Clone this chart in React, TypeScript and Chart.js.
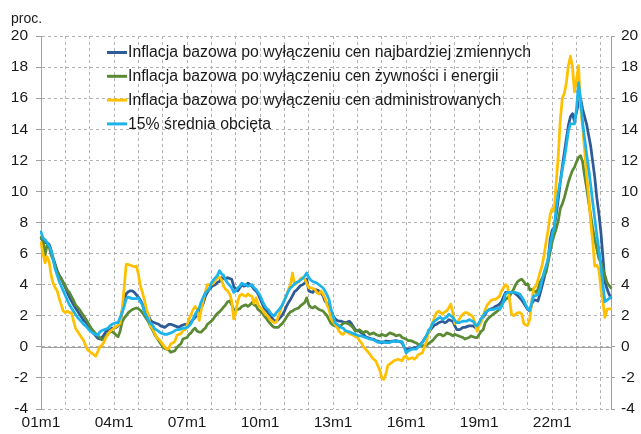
import React, { useEffect, useRef } from 'react';
import { Chart, registerables } from 'chart.js';

Chart.register(...registerables);

// ---- categories (monthly, 2001m1 .. 2024m6) ----
const START_YEAR = 2001;
const END_YEAR = 2024;
const END_MONTH = 6;
const CATEGORIES: string[] = [];
for (let y = START_YEAR; y <= END_YEAR; y++) {
  for (let m = 1; m <= 12; m++) {
    if (y === END_YEAR && m > END_MONTH) break;
    CATEGORIES.push(`${String(y % 100).padStart(2, '0')}m${m}`);
  }
}
const TICK_LABELS = ['01m1', '04m1', '07m1', '10m1', '13m1', '16m1', '19m1', '22m1'];

const LABELS = [
  'Inflacja bazowa po wyłączeniu cen najbardziej zmiennych',
  'Inflacja bazowa po wyłączeniu cen żywności i energii',
  'Inflacja bazowa po wyłączeniu cen administrowanych',
  '15% średnia obcięta',
];
const COLORS = ['#2E5A98', '#5A8A33', '#FFC000', '#1CB4EA'];

// excl. most volatile prices
const EXCL_VOLATILE = [
  7.0, 6.8, 6.7, 6.7, 6.6, 6.2, 5.7, 5.3, 4.9, 4.6, 4.4, 4.1,
  3.8, 3.5, 3.2, 2.95, 2.7, 2.5, 2.3, 2.1, 1.9, 1.7, 1.6, 1.45,
  1.25, 1.05, 0.85, 0.7, 0.55, 0.5, 0.6, 0.75, 1.0, 1.05, 1.1, 1.2,
  1.2, 1.25, 1.35, 1.5, 2.3, 3.0, 3.4, 3.55, 3.6, 3.6, 3.5, 3.35,
  3.2, 3.0, 2.75, 2.35, 2.15, 2.0, 1.7, 1.6, 1.55, 1.5, 1.45, 1.35,
  1.3, 1.25, 1.35, 1.45, 1.45, 1.4, 1.35, 1.3, 1.25, 1.35, 1.4, 1.45,
  1.45, 1.5, 1.6, 1.75, 1.9, 2.05, 2.25, 2.5, 2.8, 3.25, 3.5, 3.7,
  3.85, 3.95, 4.0, 4.15, 4.2, 4.45, 4.4, 4.35, 4.45, 4.4, 4.35, 3.9,
  3.7, 3.6, 3.8, 4.0, 3.9, 3.95, 4.1, 4.0, 3.9, 3.7, 3.6, 3.4,
  3.1, 2.8, 2.5, 2.35, 2.2, 2.0, 1.85, 1.65, 1.7, 1.75, 1.9, 2.05,
  2.3, 2.6, 2.85, 3.05, 3.3, 3.55, 3.65, 3.8, 3.95, 4.0, 4.1, 4.35,
  3.6, 3.55, 3.5, 3.7, 3.65, 3.6, 3.45, 3.3, 2.95, 2.8, 2.6, 2.3,
  2.0, 1.8, 1.7, 1.65, 1.65, 1.6, 1.55, 1.6, 1.65, 1.5, 1.3, 1.1,
  1.05, 1.0, 0.9, 0.8, 0.65, 0.6, 0.55, 0.5, 0.5, 0.4, 0.37, 0.33,
  0.27, 0.3, 0.37, 0.35, 0.33, 0.37, 0.38, 0.4, 0.35, 0.33, 0.27, 0.0,
  -0.22, -0.15, -0.15, -0.1, -0.05, -0.05, 0.05, 0.15, 0.3, 0.5, 0.7, 0.9,
  1.1, 1.25, 1.4, 1.45, 1.55, 1.6, 1.65, 1.55, 1.6, 1.75, 1.7, 1.65,
  1.35, 1.1, 1.1, 1.15, 1.25, 1.25, 1.3, 1.35, 1.35, 1.35, 1.25, 1.2,
  1.45, 1.8, 1.9, 2.1, 2.3, 2.4, 2.45, 2.5, 2.6, 2.65, 2.75, 2.9,
  3.2, 3.5, 3.5, 3.5, 3.5, 3.5, 3.4, 3.3, 3.15, 3.0, 2.8, 2.6,
  2.4, 2.3, 2.8, 3.0, 3.0, 2.95, 3.4, 3.9, 4.4, 5.0, 5.6, 6.9,
  7.5, 7.7, 8.5, 9.5, 10.6, 11.6, 12.5, 13.4, 14.25, 14.8, 15.0, 14.5,
  15.1, 15.7, 16.0, 15.3, 14.8, 14.3, 13.6, 12.9, 11.9, 10.9, 9.6, 8.6,
  7.4, 5.8, 4.2, 3.75, 3.4, 3.15,
];

// excl. food and energy prices
const EXCL_FOOD_ENERGY = [
  7.05, 6.8, 5.9, 6.55, 6.45, 5.9, 5.6, 5.2, 4.8, 4.55, 4.35, 4.15,
  3.9, 3.65, 3.5, 3.25, 3.0, 2.7, 2.55, 2.4, 2.2, 2.0, 1.8, 1.6,
  1.35, 1.15, 1.0, 0.85, 0.7, 0.6, 0.45, 0.5, 0.7, 0.85, 0.95, 1.0,
  0.9, 0.75, 0.65, 1.0, 1.6, 1.85, 2.0, 2.2, 2.3, 2.4, 2.45, 2.5,
  2.45, 2.35, 2.2, 2.0, 1.8, 1.6, 1.3, 1.1, 0.8, 0.6, 0.4, 0.2,
  0.0, -0.1, -0.15, -0.2, -0.35, -0.3, -0.25, -0.05, 0.1, 0.2, 0.5, 0.55,
  0.6, 0.8, 0.9, 1.1, 1.2, 1.0, 0.95, 0.95, 1.1, 1.2, 1.45, 1.55,
  1.65, 1.8, 2.0, 2.15, 2.25, 2.4, 2.55, 2.7, 2.9, 2.95, 2.7, 2.4,
  2.35, 2.4, 2.45, 2.6, 2.65, 2.7, 2.6, 2.7, 2.85, 2.7, 2.65, 2.4,
  2.3, 2.2, 2.0, 1.85, 1.65, 1.5, 1.35, 1.25, 1.25, 1.25, 1.4, 1.5,
  1.7, 1.9, 2.1, 2.25, 2.3, 2.4, 2.45, 2.5, 2.65, 2.75, 2.85, 3.15,
  2.7, 2.55, 2.5, 2.6, 2.5, 2.4, 2.35, 2.3, 2.15, 2.0, 1.75, 1.5,
  1.4, 1.35, 1.3, 1.25, 1.4, 1.5, 1.55, 1.5, 1.45, 1.35, 1.2, 1.0,
  1.05, 1.1, 1.0, 0.9, 1.0, 0.95, 0.8, 0.85, 0.9, 0.8, 0.75, 0.7,
  0.8, 0.75, 0.7, 0.8, 0.9, 0.85, 0.8, 0.7, 0.75, 0.75, 0.6, 0.55,
  0.5, 0.4, 0.4, 0.37, 0.3, 0.25, 0.15, 0.1, 0.05, 0.1, 0.1, 0.2,
  0.3, 0.4, 0.55, 0.7, 0.8, 0.8, 0.7, 0.75, 0.9, 0.85, 0.8, 0.7,
  0.8, 0.75, 0.7, 0.65, 0.6, 0.5, 0.55, 0.6, 0.7, 0.65, 0.6, 0.6,
  0.8, 1.0, 1.1, 1.55, 1.75, 1.9, 2.0, 2.1, 2.2, 2.3, 2.4, 2.7,
  2.9, 3.05, 3.15, 3.25, 3.5, 3.7, 4.0, 4.2, 4.3, 4.35, 4.2, 4.0,
  4.05, 3.65, 3.7, 3.6, 3.5, 3.7, 4.15, 4.4, 4.6, 4.8, 5.45, 6.1,
  6.75, 7.2, 7.6, 8.1, 8.9, 9.2, 9.6, 10.1, 10.6, 11.0, 11.35, 11.55,
  11.9, 12.2, 12.3, 11.9, 11.0, 10.2, 9.3, 8.45, 7.6, 6.9, 6.3, 5.7,
  5.45, 5.0, 4.6, 4.15, 3.95, 3.8,
];

// excl. administered prices
const EXCL_ADMINISTERED = [
  6.7, 6.0, 5.4, 5.8, 5.5, 4.6, 4.1, 3.8, 3.6, 3.1, 2.7, 2.3,
  2.2, 2.3, 2.2, 2.2, 1.7, 1.2, 1.0, 0.8, 0.6, 0.4, 0.1, -0.2,
  -0.3, -0.4, -0.5, -0.6, -0.3, 0.0, 0.1, 0.3, 0.6, 0.8, 1.0, 1.1,
  1.2, 1.3, 1.4, 1.5, 2.4, 3.8, 5.3, 5.3, 5.25, 5.2, 5.15, 5.2,
  4.7, 3.9, 3.5, 3.0, 2.4, 2.0, 1.3, 1.2, 0.9, 0.6, 0.5, 0.35,
  0.15, 0.0, -0.15, -0.1, 0.2, 0.25, 0.35, 0.75, 0.8, 0.85, 1.05, 1.1,
  1.4, 1.8, 2.1, 2.4, 2.6, 2.4, 1.7, 2.4, 3.0, 3.5, 4.0, 4.0,
  4.0, 4.1, 4.3, 4.4, 4.5, 4.3, 3.9, 3.7, 3.6, 3.4, 2.95, 1.8,
  2.2, 2.95, 3.3, 3.4, 3.3, 3.25, 3.4, 3.3, 3.25, 2.8, 3.15, 2.7,
  2.55, 2.4, 2.2, 2.05, 1.95, 1.75, 1.65, 1.55, 1.6, 1.95, 2.3, 2.7,
  3.0, 3.3, 3.7, 4.0, 4.75, 4.0, 4.1, 4.2, 4.4, 4.45, 4.35, 4.1,
  3.8, 3.8, 3.75, 3.7, 3.5, 3.4, 3.6, 3.4, 3.15, 2.7, 2.4, 1.8,
  1.6, 1.45, 1.25, 1.0, 0.85, 0.8, 1.0, 0.95, 0.85, 0.8, 0.75, 0.65,
  0.6, 0.4, 0.25, 0.0, -0.15, -0.3, -0.45, -0.65, -0.8, -0.9, -1.2, -1.5,
  -2.0, -2.1, -1.75, -1.2, -1.1, -1.0, -0.9, -0.85, -0.8, -0.85, -0.9, -0.65,
  -0.6, -0.8, -0.75, -0.7, -0.8, -0.7, -0.5, -0.45, -0.4, 0.0, 0.3, 0.9,
  1.2, 1.55, 1.9, 2.2, 2.3, 2.2, 2.1, 2.25, 2.3, 2.5, 2.75, 2.2,
  1.5, 1.55, 1.75, 1.95, 2.1, 2.2, 2.2, 2.1, 2.05, 1.9, 1.55, 1.0,
  1.35, 1.6, 2.0, 2.4, 2.7, 2.85, 3.0, 3.05, 3.05, 3.15, 3.25, 3.6,
  3.8, 4.0, 3.9, 3.05, 2.1, 2.0, 2.1, 2.2, 2.2, 2.1, 1.5, 1.4,
  1.4, 1.8, 3.0, 3.8, 3.9, 4.3, 4.8, 5.2, 5.9, 6.75, 7.5, 8.5,
  8.9, 8.7, 10.6, 12.3, 14.6, 16.0, 16.3, 17.0, 18.1, 18.7, 18.0, 16.4,
  17.2, 18.1, 15.4, 14.2, 12.6, 11.0, 9.7, 8.0, 6.75, 5.2, 5.25, 5.0,
  3.75, 2.9, 1.9, 2.4, 2.45, 2.45,
];

// 15% trimmed mean
const TRIMMED_MEAN = [
  7.4, 7.0, 6.9, 6.7, 6.5, 6.2, 5.6, 5.0, 4.6, 4.2, 3.9, 3.6,
  3.3, 3.0, 2.7, 2.5, 2.3, 2.1, 1.9, 1.75, 1.6, 1.45, 1.35, 1.2,
  1.05, 0.95, 0.85, 0.8, 0.75, 0.95, 1.05, 1.1, 1.15, 1.2, 1.35, 1.45,
  1.5, 1.55, 1.55, 1.9, 2.2, 2.6, 3.1, 3.2, 3.15, 3.1, 3.1, 3.1,
  3.15, 2.9, 2.7, 2.2, 2.0, 1.7, 1.5, 1.4, 1.15, 1.1, 1.0, 0.9,
  0.85, 0.8, 0.8, 0.85, 0.9, 0.95, 1.05, 1.1, 1.1, 1.15, 1.2, 1.2,
  1.25, 1.35, 1.5, 1.8, 2.1, 2.3, 2.5, 2.9, 3.2, 3.45, 3.6, 3.75,
  4.1, 4.3, 4.45, 4.6, 4.9, 4.7, 4.6, 4.3, 4.1, 3.95, 3.8, 3.5,
  3.6, 3.8, 3.9, 4.1, 4.0, 4.0, 3.9, 3.95, 4.0, 3.8, 3.7, 3.5,
  3.3, 3.0, 2.7, 2.5, 2.4, 2.2, 2.05, 2.0, 2.2, 2.35, 2.5, 2.7,
  3.0, 3.3, 3.6, 3.8, 3.9, 4.05, 4.15, 4.2, 4.3, 4.4, 4.55, 4.75,
  4.45, 4.3, 4.2, 4.15, 4.1, 4.0, 3.9, 3.8, 3.6, 3.35, 3.05, 2.4,
  2.0, 1.55, 1.45, 1.35, 1.25, 1.2, 1.05, 1.0, 0.97, 0.9, 0.85, 0.8,
  0.75, 0.7, 0.7, 0.65, 0.6, 0.55, 0.5, 0.5, 0.45, 0.37, 0.3, 0.27,
  0.33, 0.3, 0.27, 0.27, 0.27, 0.35, 0.37, 0.33, 0.37, 0.35, 0.33, 0.0,
  -0.4, -0.27, -0.2, -0.15, -0.15, -0.15, 0.0, 0.1, 0.27, 0.5, 0.7, 1.05,
  1.2, 1.5, 1.65, 1.75, 1.85, 1.9, 1.75, 1.85, 1.9, 2.1, 2.0, 1.9,
  1.7, 1.55, 1.55, 1.6, 1.65, 1.65, 1.65, 1.75, 1.7, 1.65, 1.45, 1.35,
  1.55, 1.8, 2.0, 2.2, 2.3, 2.4, 2.4, 2.4, 2.45, 2.5, 2.4, 2.6,
  2.9, 3.4, 3.5, 3.5, 3.5, 3.5, 3.5, 3.45, 3.4, 3.2, 3.0, 2.7,
  2.45, 2.35, 2.9, 3.3, 3.3, 3.35, 3.7, 4.3, 4.8, 5.2, 5.7, 6.5,
  7.2, 7.7, 8.9, 9.95, 10.6, 11.4, 12.1, 12.95, 13.9, 14.35, 14.35, 14.35,
  15.3, 17.0, 15.95, 14.45, 13.4, 12.4, 11.45, 10.4, 9.3, 8.25, 7.2, 6.3,
  5.2, 4.0, 2.9, 3.0, 3.1, 3.2,
];

const SERIES = [EXCL_VOLATILE, EXCL_FOOD_ENERGY, EXCL_ADMINISTERED, TRIMMED_MEAN];

const Y_MIN = -4;
const Y_MAX = 20;
const Y_STEP = 2;

const FONT_FAMILY = "'Liberation Sans', Arial, sans-serif";
const TEXT_COLOR = '#1a1a1a';
const GRID_COLOR = '#b3b3b3';
const AXIS_COLOR = '#a0a0a0';

const overlayPlugin = {
  id: 'overlay',
  beforeDatasetsDraw(chart: any) {
    const { ctx, chartArea, scales } = chart;
    const y0 = Math.round(scales.y.getPixelForValue(0)) + 0.5;
    ctx.save();
    ctx.strokeStyle = AXIS_COLOR;
    ctx.lineWidth = 1;
    ctx.setLineDash([]);
    ctx.beginPath();
    ctx.moveTo(chartArea.left, y0);
    ctx.lineTo(chartArea.right, y0);
    ctx.stroke();
    ctx.restore();
  },
  afterDraw(chart: any) {
    const { ctx } = chart;
    ctx.save();
    ctx.fillStyle = TEXT_COLOR;
    ctx.font = `14px ${FONT_FAMILY}`;
    ctx.textBaseline = 'middle';
    ctx.textAlign = 'left';
    ctx.fillText('proc.', 11, 19);

    // legend inside plot
    const x0 = 107;
    const lineLen = 20;
    const yStart = 52.5;
    const rowH = 23.8;
    ctx.font = `15.8px ${FONT_FAMILY}`;
    chart.data.datasets.forEach((ds: any, i: number) => {
      const y = yStart + i * rowH;
      ctx.strokeStyle = ds.borderColor;
      ctx.lineWidth = 3;
      ctx.beginPath();
      ctx.moveTo(x0, y);
      ctx.lineTo(x0 + lineLen, y);
      ctx.stroke();
      ctx.fillStyle = TEXT_COLOR;
      ctx.fillText(ds.label, x0 + lineLen + 1, y + 0.5);
    });
    ctx.restore();
  },
};

export default function App() {
  const canvasRef = useRef<HTMLCanvasElement | null>(null);

  useEffect(() => {
    if (!canvasRef.current) return;
    const tickFont = { family: FONT_FAMILY, size: 15.5 };
    const chart = new Chart(canvasRef.current, {
      type: 'line',
      data: {
        labels: CATEGORIES,
        datasets: SERIES.map((values, i) => ({
          label: LABELS[i],
          data: values,
          borderColor: COLORS[i],
          backgroundColor: COLORS[i],
          borderWidth: 2.75,
          pointRadius: 0,
          tension: 0,
          fill: false,
          borderJoinStyle: 'round' as const,
          borderCapStyle: 'round' as const,
          order: SERIES.length - i,
        })),
      },
      options: {
        animation: false,
        responsive: true,
        maintainAspectRatio: false,
        events: [],
        layout: { padding: { top: 36, left: 0, right: 0, bottom: 0 } },
        plugins: {
          legend: { display: false },
          tooltip: { enabled: false },
          title: { display: false },
        },
        scales: {
          x: {
            type: 'category',
            offset: false,
            border: { display: false, dash: [3, 3] },
            grid: {
              color: (c: any) =>
                c.index > 0 && c.index % 12 === 0 ? GRID_COLOR : 'rgba(0,0,0,0)',
              lineWidth: 1,
              drawTicks: false,
            },
            ticks: {
              autoSkip: false,
              maxRotation: 0,
              minRotation: 0,
              padding: 4,
              color: TEXT_COLOR,
              font: tickFont,
              callback: function (this: any, value: any, index: number) {
                const lab = CATEGORIES[index];
                return TICK_LABELS.includes(lab) ? lab : '';
              },
            },
            afterFit: (s: any) => {
              s.height = 25;
            },
          },
          y: {
            position: 'left',
            min: Y_MIN,
            max: Y_MAX,
            border: { display: true, color: AXIS_COLOR, width: 1, dash: [3, 3] },
            grid: {
              color: GRID_COLOR,
              lineWidth: 1,
              tickLength: 5,
              tickColor: AXIS_COLOR,
              tickBorderDash: [],
            },
            ticks: {
              stepSize: Y_STEP,
              padding: 8,
              color: TEXT_COLOR,
              font: tickFont,
            },
            afterFit: (s: any) => {
              s.width = 41;
            },
          },
          y1: {
            position: 'right',
            min: Y_MIN,
            max: Y_MAX,
            border: { display: true, color: AXIS_COLOR, width: 1 },
            grid: {
              drawOnChartArea: false,
              tickLength: 4,
              tickColor: AXIS_COLOR,
            },
            ticks: {
              stepSize: Y_STEP,
              padding: 6,
              color: TEXT_COLOR,
              font: tickFont,
            },
            afterFit: (s: any) => {
              s.width = 30;
            },
          },
        },
      },
      plugins: [overlayPlugin],
    });
    return () => chart.destroy();
  }, []);

  return (
    <div
      style={{
        position: 'fixed',
        left: 0,
        top: 0,
        width: 641,
        height: 434,
        background: '#ffffff',
      }}
    >
      <canvas ref={canvasRef} />
    </div>
  );
}
